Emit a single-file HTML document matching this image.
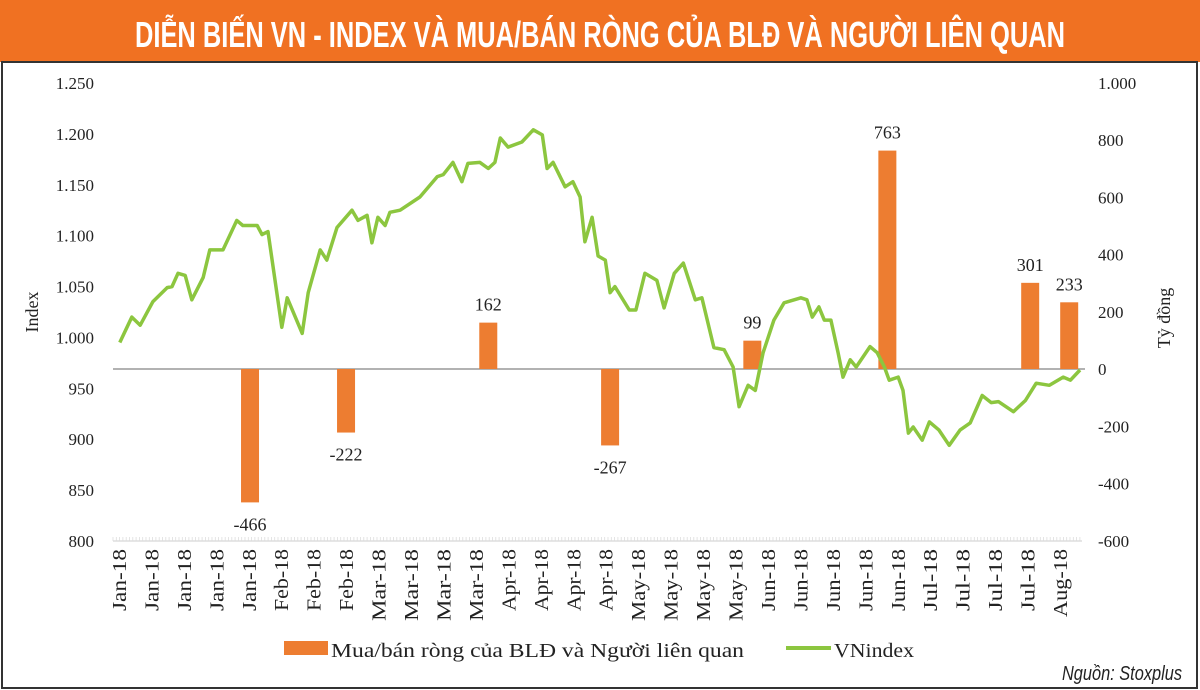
<!DOCTYPE html>
<html><head><meta charset="utf-8"><style>
body{margin:0;width:1200px;height:690px;background:#fff;overflow:hidden;}
svg{display:block}
</style></head><body>
<svg id="chart" width="1200" height="690" xmlns="http://www.w3.org/2000/svg">
<rect x="0" y="0" width="1200" height="62" fill="#f07122"/>
<text x="600" y="47" text-anchor="middle" fill="#fff" font-family="'Liberation Sans Narrow','Liberation Sans',sans-serif" font-weight="bold" font-size="36" textLength="930" lengthAdjust="spacingAndGlyphs">DIỄN BIẾN VN - INDEX VÀ MUA/BÁN RÒNG CỦA BLĐ VÀ NGƯỜI LIÊN QUAN</text>
<rect x="2" y="62" width="1195" height="626" fill="none" stroke="#333" stroke-width="2"/>
<g id="plot"></g>
<g font-family="'Liberation Serif',serif" font-size="18" fill="#222">
<text transform="translate(38,312) rotate(-90)" text-anchor="middle">Index</text>
<text transform="translate(1170,318) rotate(-90)" text-anchor="middle">Tỷ đồng</text>
</g>
<g font-family="'Liberation Serif',serif" font-size="20" fill="#222">
<rect x="284" y="641" width="44" height="14" fill="#ed7d31"/>
<text x="331" y="657" textLength="413" lengthAdjust="spacingAndGlyphs">Mua/bán ròng của BLĐ  và Người liên quan</text>
<line x1="786" y1="648" x2="831" y2="648" stroke="#8cc63f" stroke-width="4"/>
<text x="834" y="657" textLength="80" lengthAdjust="spacingAndGlyphs">VNindex</text>
</g>
<text x="1182" y="680" text-anchor="end" font-family="'Liberation Sans Narrow','Liberation Sans',sans-serif" font-style="italic" font-size="20" fill="#222" textLength="120" lengthAdjust="spacingAndGlyphs">Nguồn: Stoxplus</text>
</svg>
<script>
const xLabels=["Jan-18","Jan-18","Jan-18","Jan-18","Jan-18","Feb-18","Feb-18","Feb-18","Mar-18","Mar-18","Mar-18","Mar-18","Apr-18","Apr-18","Apr-18","Apr-18","May-18","May-18","May-18","May-18","Jun-18","Jun-18","Jun-18","Jun-18","Jun-18","Jul-18","Jul-18","Jul-18","Jul-18","Aug-18"];
const leftTicks=[800,850,900,950,1000,1050,1100,1150,1200,1250];
const rightTicks=[-600,-400,-200,0,200,400,600,800,1000];
const lineSessions=[0.3,2.3,3.7,5.8,8.2,9,10,11.2,12.3,14.2,15.3,17.5,19.8,20.8,23.2,24,25,27.3,28.2,30.7,31.7,33.7,34.8,36.5,39,40,41.5,42.3,43.3,44.5,45.3,47,50.3,53.2,54.2,55.8,57.3,58.3,60.3,61.7,62.8,63.7,65,67.3,69.2,70.7,71.5,72.5,74.5,75.8,77,77.8,79,80,81.2,82,82.8,85.2,86.3,87.8,89.8,91,92.7,94.2,96.2,97.3,99.3,101,102.5,103.5,105,106.2,107.5,109.3,111,113.8,114.8,115.7,116.8,117.7,118.8,120,120.8,122,123,125.3,126.5,127.7,128.5,130,130.8,131.7,132.5,134,135.2,136.8,138.5,140.3,142,144,145.5,146.7,149.2,151.2,153,155.2,157.5,158.7,160.3];
const lineValues=[995,1020,1012,1035,1049,1050,1063,1061,1037,1059,1086,1086,1115,1110,1110,1101,1104,1010,1039,1004,1044,1086,1076,1108,1125,1115,1120,1093,1118,1110,1123,1125,1138,1158,1160,1172,1153,1171,1172,1166,1172,1196,1187,1192,1204,1199,1166,1172,1148,1153,1138,1094,1118,1080,1076,1044,1050,1027,1027,1063,1056,1029,1063,1073,1037,1039,990,988,971,932,953,948,985,1017,1034,1039,1037,1020,1030,1017,1017,985,961,978,971,991,985,971,958,961,948,906,912,899,917,909,894,909,916,943,936,937,927,938,955,953,961,958,968];
const barSessions=[22,38,61.7,82,105.7,128.2,152,158.5];
const barValues=[-466,-222,162,-267,99,763,301,233];

const NS="http://www.w3.org/2000/svg";
const plot=document.getElementById('plot');
const X0=118,X1=1080,S0=0,S1=160.3;
const xS=t=>X0+(t-S0)*(X1-X0)/(S1-S0);
const yL=v=>541-(v-800)*458/450;
const yR=v=>369-v*458/1600;
function mk(tag,attrs){const e=document.createElementNS(NS,tag);for(const k in attrs)e.setAttribute(k,attrs[k]);plot.appendChild(e);return e;}
const fmt=v=>v>=1000?(Math.floor(v/1000)+"."+String(v%1000).padStart(3,"0")):String(v);
leftTicks.forEach(v=>{
  const t=mk('text',{x:94,y:yL(v)+6,'text-anchor':'end','font-family':"'Liberation Serif',serif",'font-size':17,fill:'#222'});
  t.textContent=fmt(v);
  
  
});
rightTicks.forEach(v=>{
  const t=mk('text',{x:1098,y:yR(v)+6,'font-family':"'Liberation Serif',serif",'font-size':17,fill:'#222'});
  t.textContent=v<0?"-"+fmt(-v):fmt(v);
  
  
});
const ax=mk('line',{x1:113,y1:541,x2:1082,y2:541,stroke:'#ccc','stroke-width':1});


for(let x=113;x<=1082;x+=3.3){const tk=mk('line',{x1:x,y1:537,x2:x,y2:541,stroke:'#ddd','stroke-width':0.8});

}
const step=(1060-119)/(xLabels.length-1);
xLabels.forEach((l,i)=>{
  const x=119+i*step;
  const t=mk('text',{transform:`translate(${x+7},549) rotate(-90)`,'text-anchor':'end','font-family':"'Liberation Serif',serif",'font-size':20,fill:'#222',textLength:(l.startsWith('Ma')?72:l.startsWith('Au')?68:62),lengthAdjust:'spacingAndGlyphs'});
  t.textContent=l;
  
  
});
const z=mk('line',{x1:113,y1:yR(0),x2:1085,y2:yR(0),stroke:'#999','stroke-width':1.5});


barValues.forEach((v,i)=>{
  const cx=xS(barSessions[i]);
  const y0=yR(0),y1=yR(v);
  const r=mk('rect',{x:cx-9,y:Math.min(y0,y1),width:18,height:Math.abs(y1-y0),fill:'#ed7d31'});
  
  
  const t=mk('text',{x:cx,y:v>=0?y1-12:y1+28,'text-anchor':'middle','font-family':"'Liberation Serif',serif",'font-size':18,fill:'#222'});
  t.textContent=v;
  
  
});
const d=lineValues.map((v,i)=>(i?'L':'M')+xS(lineSessions[i]).toFixed(1)+','+yL(v).toFixed(1)).join('');
const p=mk('path',{d:d,fill:'none',stroke:'#8cc63f','stroke-width':3.5,'stroke-linejoin':'round'});


</script>
</body></html>
